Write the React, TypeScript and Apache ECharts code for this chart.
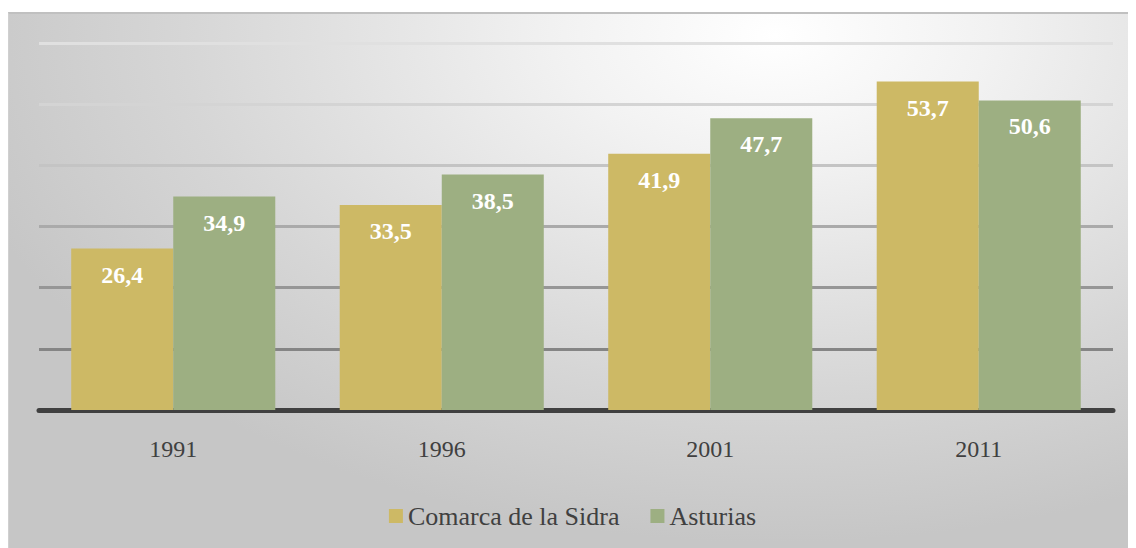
import React, { useEffect, useRef } from "react";
import * as echarts from "echarts";

const categories = ["1991", "1996", "2001", "2011"];
const comarca = [26.4, 33.5, 41.9, 53.7];
const asturias = [34.9, 38.5, 47.7, 50.6];
const seriesNames = ["Comarca de la Sidra", "Asturias"];

const FONT = "'Book Antiqua', 'Palatino Linotype', Palatino, 'Liberation Serif', serif";

export default function App() {
  const ref = useRef<HTMLDivElement>(null);
  useEffect(() => {
    if (!ref.current) return;
    const chart = echarts.init(ref.current, null, { renderer: "svg" });
    const label = {
      show: true,
      position: "insideTop",
      distance: 14,
      color: "#ffffff",
      fontFamily: FONT,
      fontWeight: "bold",
      fontSize: 24,
      formatter: (p: any) => String(p.value.toFixed(1)).replace(".", ","),
    };
    chart.setOption({
      animation: false,
      backgroundColor: "transparent",
      grid: { left: 30, right: 23, top: 29, bottom: 138, containLabel: false },
      legend: {
        top: 484,
        left: "center",
        itemWidth: 14,
        itemHeight: 14,
        itemGap: 31,
        icon: "rect",
        textStyle: { fontFamily: FONT, fontSize: 26, color: "#404040" },
        data: seriesNames,
      },
      xAxis: {
        type: "category",
        data: categories,
        axisLine: { lineStyle: { color: "#404040", width: 5 } },
        axisTick: { show: false },
        axisLabel: { margin: 27, fontFamily: FONT, fontSize: 24, color: "#404040" },
      },
      yAxis: {
        type: "value",
        min: 0,
        max: 60,
        interval: 10,
        axisLabel: { show: false },
        axisLine: { show: false },
        axisTick: { show: false },
        splitLine: {
          lineStyle: {
            width: 3,
            color: ["#404040", "#858585", "#969696", "#aaaaaa", "#c4c4c4", "#d4d4d4", "#e0e0e0"],
          },
        },
      },
      series: [
        {
          name: seriesNames[0],
          type: "bar",
          data: comarca,
          barGap: "0%",
          barCategoryGap: "24%",
          itemStyle: { color: "#CDB965" },
          label,
        },
        {
          name: seriesNames[1],
          type: "bar",
          data: asturias,
          itemStyle: { color: "#9DAF82" },
          label,
        },
      ],
    });
    return () => chart.dispose();
  }, []);
  return (
    <div style={{ paddingTop: 4 }}>
      <div
        style={{
          width: 1128,
          height: 536,
          boxSizing: "border-box",
          borderTop: "2px solid #c0c0c0",
          borderLeft: "1px solid #d0d0d0",
          background:
            "radial-gradient(ellipse 75% 95% at 68% 4%, #ffffff 0%, #f2f2f2 25%, #d6d6d6 70%, #c6c6c6 100%)",
        }}
      >
        <div ref={ref} style={{ width: 1127, height: 534 }} />
      </div>
    </div>
  );
}
